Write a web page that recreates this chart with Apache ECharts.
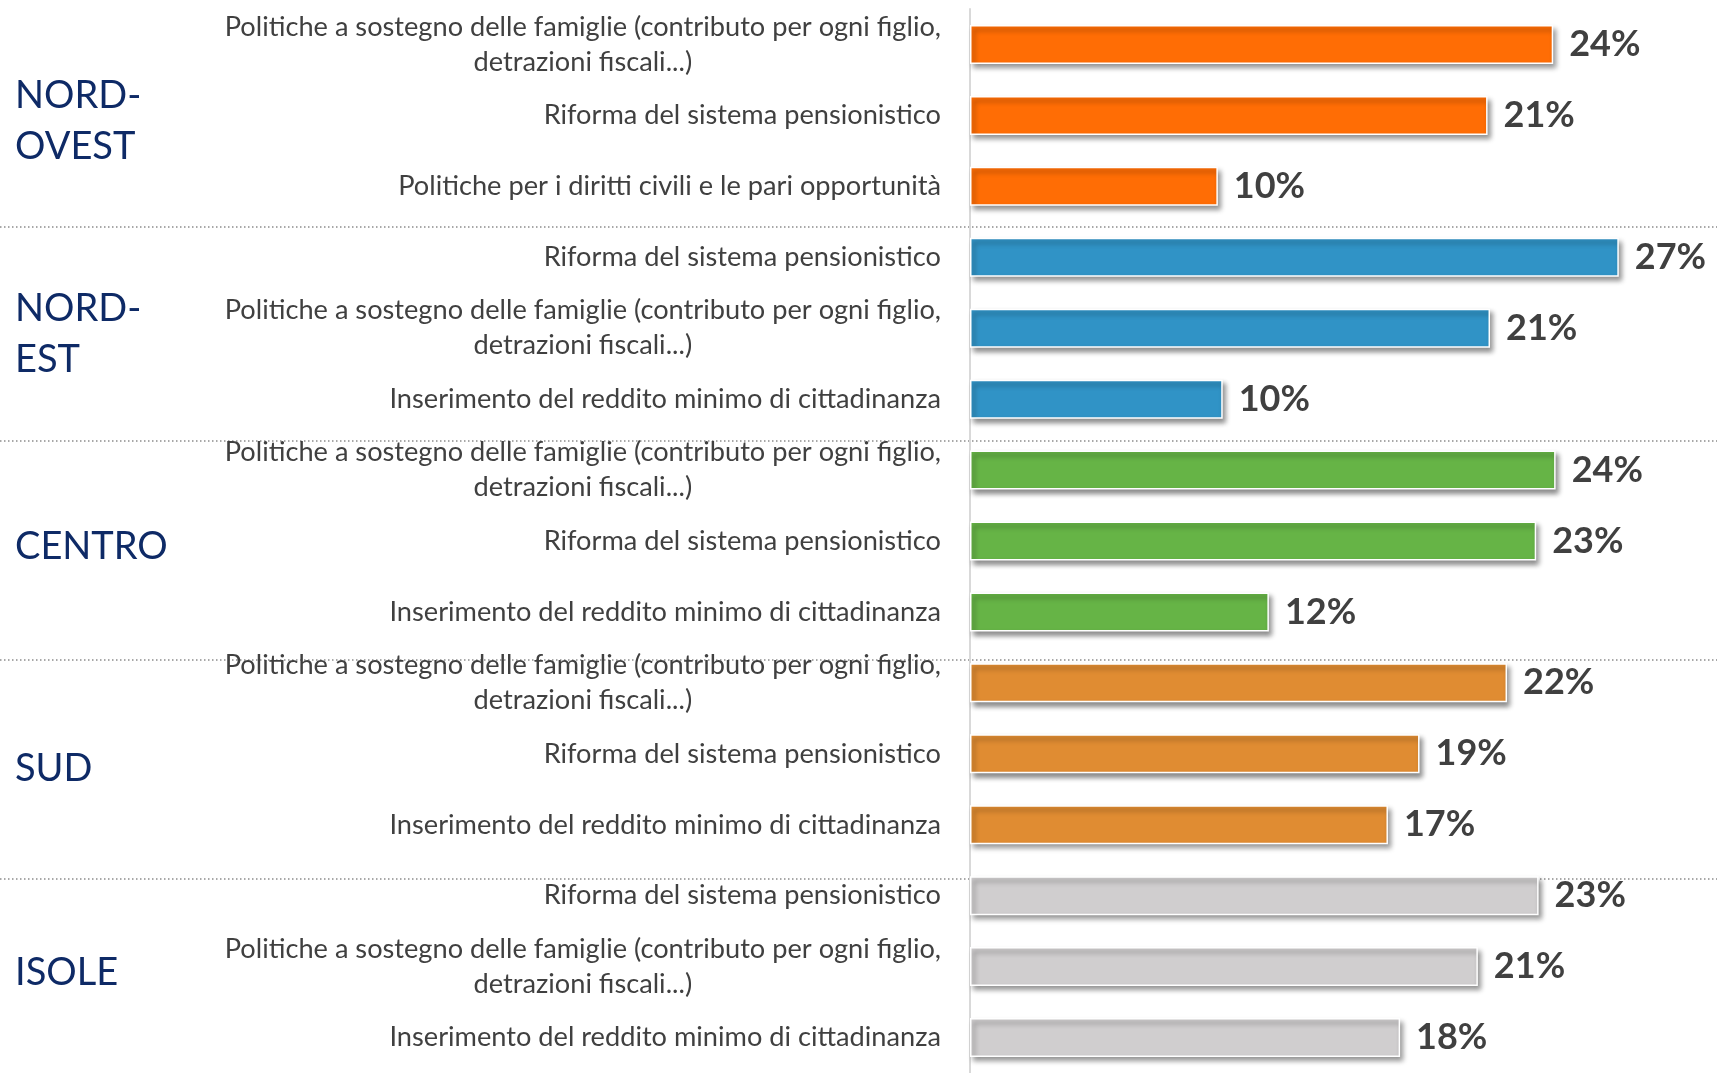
<!DOCTYPE html>
<html>
<head>
<meta charset="utf-8">
<script src="https://cdn.jsdelivr.net/npm/echarts@6/dist/echarts.min.js"></script>
<style>
html,body{margin:0;padding:0;background:#fff;}
#chart{width:1717px;height:1073px;}
</style>
</head>
<body>
<div id="chart"></div>
<script>
// ---- data ----
const regions = ['NORD-\nOVEST', 'NORD-\nEST', 'CENTRO', 'SUD', 'ISOLE'];
const regionColors = ['#FF6D05', '#3093C6', '#66B446', '#E08C32', '#D0CECF'];

const itemsNordOvest = [
  'Politiche a sostegno delle famiglie (contributo per ogni figlio,\ndetrazioni fiscali...)',
  'Riforma del sistema pensionistico',
  'Politiche per i diritti civili e le pari opportunità'
];
// values; labels show the rounded percentage
const valuesNordOvest = [24.0, 21.3, 10.2];

const itemsNordEst = [
  'Riforma del sistema pensionistico',
  'Politiche a sostegno delle famiglie (contributo per ogni figlio,\ndetrazioni fiscali...)',
  'Inserimento del reddito minimo di cittadinanza'
];
const valuesNordEst = [26.7, 21.4, 10.4];

const itemsCentro = [
  'Politiche a sostegno delle famiglie (contributo per ogni figlio,\ndetrazioni fiscali...)',
  'Riforma del sistema pensionistico',
  'Inserimento del reddito minimo di cittadinanza'
];
const valuesCentro = [24.1, 23.3, 12.3];

const itemsSud = [
  'Politiche a sostegno delle famiglie (contributo per ogni figlio,\ndetrazioni fiscali...)',
  'Riforma del sistema pensionistico',
  'Inserimento del reddito minimo di cittadinanza'
];
const valuesSud = [22.1, 18.5, 17.2];

const itemsIsole = [
  'Riforma del sistema pensionistico',
  'Politiche a sostegno delle famiglie (contributo per ogni figlio,\ndetrazioni fiscali...)',
  'Inserimento del reddito minimo di cittadinanza'
];
const valuesIsole = [23.4, 20.9, 17.7];

// ---- build ----
const groupItems = [itemsNordOvest, itemsNordEst, itemsCentro, itemsSud, itemsIsole];
const groupValues = [valuesNordOvest, valuesNordEst, valuesCentro, valuesSud, valuesIsole];

const catLabels = [];
const regionLabels = [];
const barData = [];
groupItems.forEach((items, g) => {
  items.forEach((name, i) => {
    catLabels.push(name);
    regionLabels.push(i === 1 ? regions[g] : '');
    barData.push({ value: groupValues[g][i], itemStyle: { color: regionColors[g] } });
  });
});
const idx = catLabels.map((_, i) => String(i));

const chart = echarts.init(document.getElementById('chart'), null, { renderer: 'canvas' });

const sepYs = [227, 441, 660, 879];
const txt = { fontFamily: 'Lato', fontSize: 27.2, color: '#404040', lineHeight: 35 };

chart.setOption({
  animation: false,
  backgroundColor: '#ffffff',
  grid: { left: 970, top: 9, height: 1070, width: 729, containLabel: false },
  xAxis: { type: 'value', min: 0, max: 30, show: false, splitLine: { show: false } },
  yAxis: [
    {
      type: 'category',
      position: 'left',
      inverse: true,
      data: idx,
      axisLine: { show: true, lineStyle: { color: '#D9D9D9', width: 2 } },
      axisTick: { show: false },
      axisLabel: Object.assign({
        margin: 29,
        interval: 0,
        formatter: (v) => {
          const s = catLabels[+v];
          const parts = s.split('\n');
          if (parts.length > 1) {
            return '{a|' + parts[0] + '}\n{b|' + parts[1] + '}';
          }
          return s;
        },
        rich: {
          a: Object.assign({ align: 'right' }, txt),
          b: Object.assign({ align: 'center' }, txt)
        }
      }, txt)
    },
    {
      type: 'category',
      position: 'left',
      inverse: true,
      data: idx,
      axisLine: { show: false },
      axisTick: { show: false },
      axisLabel: {
        margin: 955,
        align: 'left',
        fontFamily: 'Lato',
        fontSize: 38,
        color: '#0E2A66',
        lineHeight: 51,
        interval: 0,
        padding: [12, 0, 0, 0],
        formatter: (v) => {
          const r = regionLabels[+v];
          return r === 'SUD' ? '{s|' + r + '}' : r;
        },
        rich: {
          s: { fontFamily: 'Lato', fontSize: 38, color: '#0E2A66', lineHeight: 51, padding: [18, 0, 0, 0] }
        }
      }
    }
  ],
  series: [{
    type: 'bar',
    yAxisIndex: 0,
    data: barData,
    barCategoryGap: '45%',
    itemStyle: {
      borderColor: '#ffffff',
      borderWidth: 1.5,
      shadowColor: 'rgba(0,0,0,0.45)',
      shadowBlur: 5,
      shadowOffsetX: 3,
      shadowOffsetY: 4
    },
    label: {
      show: true,
      position: 'right',
      distance: 16,
      formatter: (p) => Math.round(p.value) + '%',
      fontFamily: 'Lato',
      fontWeight: 'bold',
      fontSize: 36,
      color: '#404040'
    }
  }],
  graphic: sepYs.map(y => ({
    type: 'line',
    z: -1,
    silent: true,
    shape: { x1: 0, y1: y, x2: 1717, y2: y },
    style: { stroke: '#8C8C8C', lineWidth: 1.5, lineDash: [1.5, 2.5] }
  }))
});
</script>
</body>
</html>
